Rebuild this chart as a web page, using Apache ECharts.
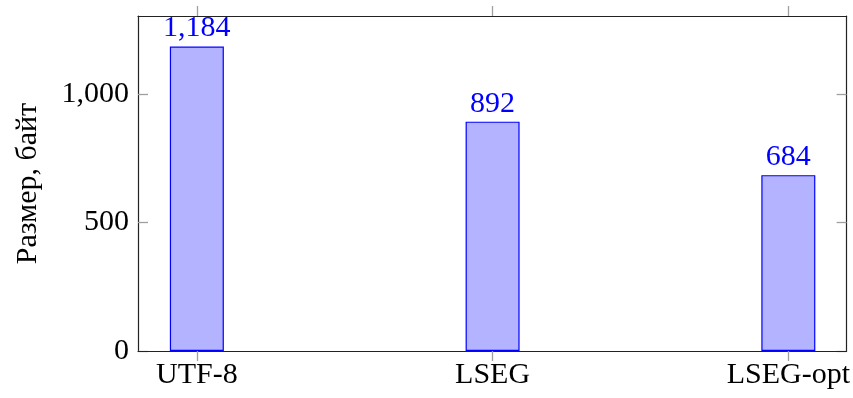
<!DOCTYPE html>
<html>
<head>
<meta charset="utf-8">
<script src="https://cdn.jsdelivr.net/npm/echarts@6/dist/echarts.min.js"></script>
<style>html,body{margin:0;padding:0;background:#fff;}#c{width:853px;height:398px;}</style>
</head>
<body>
<div id="c"></div>
<script>
const categories = ['UTF-8', 'LSEG', 'LSEG-opt'];
const values = [1184, 892, 684];
const yTicks = [0, 500, 1000];
const yTitle = 'Размер, байт';

const FONT = '"Liberation Serif", "DejaVu Serif", serif';
const FS = 30;
const fmt = v => Number(v).toLocaleString('en-US');
const xPos = categories.map((_, i) => i);
const chart = echarts.init(document.getElementById('c'), null, {renderer: 'canvas'});
const axisLine = {show: true, onZero: false, lineStyle: {color: '#222', width: 1.2}};
const tickStyle = {color: '#a0a0a0', width: 1.3};
chart.setOption({
  animation: false,
  grid: {left: 138, right: 3.5, top: 16, bottom: 47},
  xAxis: [{
    type: 'value', min: -0.199, max: 2.197, position: 'bottom', z: 5,
    axisLine: axisLine, splitLine: {show: false},
    axisTick: {show: true, inside: false, length: 10, lineStyle: tickStyle, customValues: xPos},
    axisLabel: {customValues: xPos, formatter: v => categories[Math.round(v)] || '', color: '#000', fontFamily: FONT, fontSize: FS, margin: 9}
  }, {
    type: 'value', min: -0.199, max: 2.197, position: 'top',
    axisLine: axisLine, splitLine: {show: false},
    axisTick: {show: true, inside: false, length: 10, lineStyle: tickStyle, customValues: xPos},
    axisLabel: {show: false}
  }],
  yAxis: [{
    type: 'value', min: 0, max: 1303, position: 'left',
    name: yTitle, nameLocation: 'middle', nameGap: 95, nameRotate: 90,
    nameTextStyle: {color: '#000', fontFamily: FONT, fontSize: FS},
    axisLine: axisLine, splitLine: {show: false},
    axisTick: {show: true, inside: true, length: 10, lineStyle: tickStyle, customValues: yTicks},
    axisLabel: {customValues: yTicks, formatter: fmt, color: '#000', fontFamily: FONT, fontSize: FS, margin: 9}
  }, {
    type: 'value', min: 0, max: 1303, position: 'right',
    axisLine: axisLine, splitLine: {show: false},
    axisTick: {show: true, inside: true, length: 10, lineStyle: tickStyle, customValues: yTicks},
    axisLabel: {show: false}
  }],
  series: [{
    type: 'bar',
    xAxisIndex: 0, yAxisIndex: 0,
    barWidth: 54,
    data: xPos.map((x, i) => [x, values[i]]),
    itemStyle: {color: '#b3b3ff', borderColor: '#0000ff', borderWidth: 1.2},
    label: {show: true, position: 'top', distance: 3, formatter: p => fmt(p.value[1]), color: '#0000ff', fontFamily: FONT, fontSize: FS}
  }]
});
</script>
</body>
</html>
